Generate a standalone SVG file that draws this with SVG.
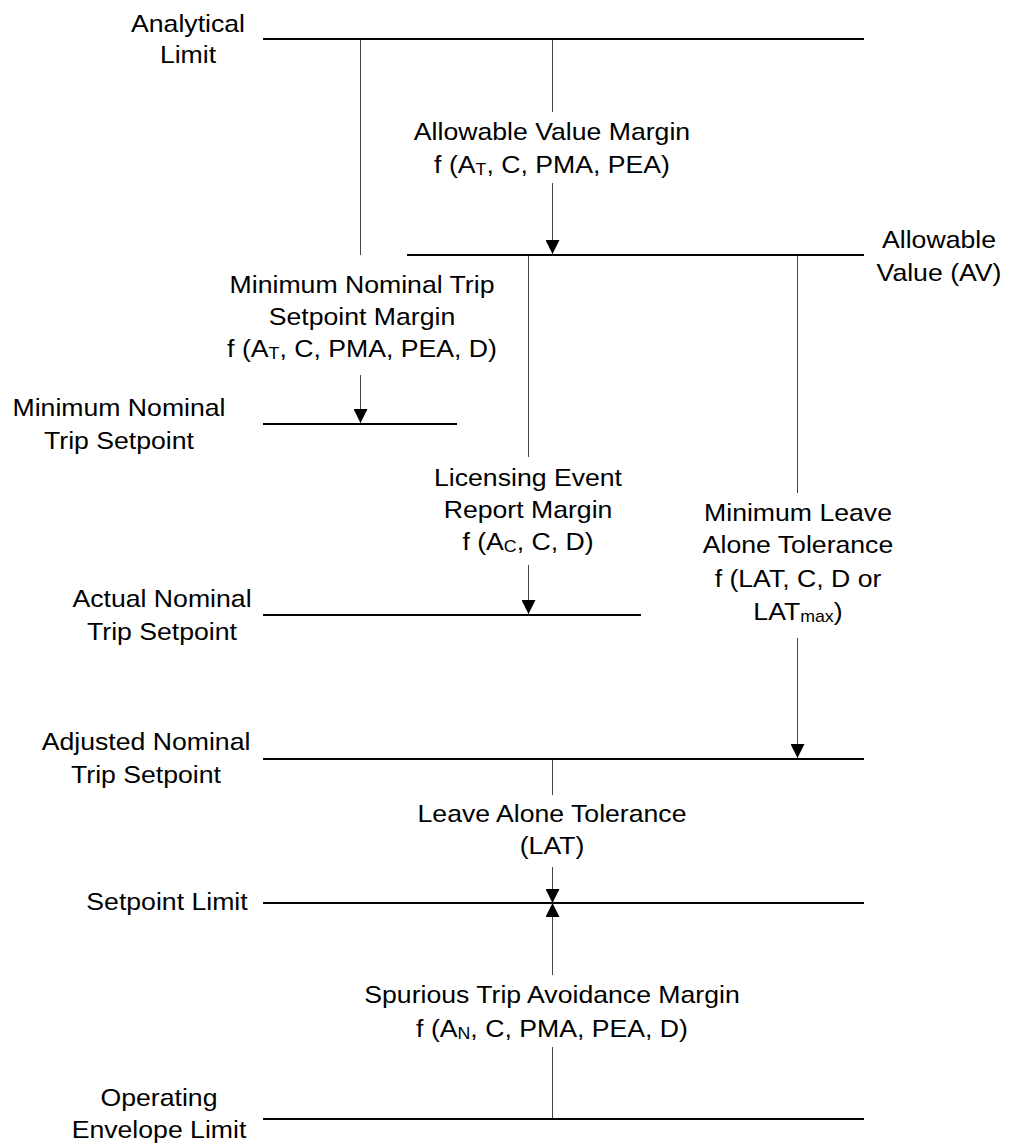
<svg xmlns="http://www.w3.org/2000/svg" width="1009" height="1148" viewBox="0 0 1009 1148">
  <style>
    .lvl { stroke: #000; stroke-width: 2; fill: none; }
    .conn { stroke: #444; stroke-width: 1; fill: none; }
    .t { font-family: "Liberation Sans", Arial, sans-serif; font-size: 24px; fill: #000; text-anchor: middle; }
    .sub { font-size: 16px; }
  </style>
  <defs>
    <marker id="arrow" markerUnits="userSpaceOnUse" markerWidth="14" markerHeight="14" refX="14" refY="7" orient="auto">
      <path d="M0,0 L14,7 L0,14 z" fill="#000"/>
    </marker>
  </defs>
  <rect width="1009" height="1148" fill="#fff"/>

  <!-- level lines with their labels -->
  <g id="analytical-limit">
    <line class="lvl" x1="263" y1="39" x2="864" y2="39"/>
    <text class="t" transform="translate(188 0) scale(1.11 1)"><tspan x="0" y="32">Analytical</tspan><tspan x="0" y="63">Limit</tspan></text>
  </g>
  <g id="allowable-value">
    <line class="lvl" x1="407" y1="255" x2="864" y2="255"/>
    <text class="t" transform="translate(939 0) scale(1.11 1)"><tspan x="0" y="248">Allowable</tspan><tspan x="0" y="281">Value (AV)</tspan></text>
  </g>
  <g id="min-nominal-trip-setpoint">
    <line class="lvl" x1="263" y1="424" x2="457" y2="424"/>
    <text class="t" transform="translate(119 0) scale(1.11 1)"><tspan x="0" y="416">Minimum Nominal</tspan><tspan x="0" y="449">Trip Setpoint</tspan></text>
  </g>
  <g id="actual-nominal-trip-setpoint">
    <line class="lvl" x1="263" y1="615" x2="641" y2="615"/>
    <text class="t" transform="translate(162 0) scale(1.11 1)"><tspan x="0" y="607">Actual Nominal</tspan><tspan x="0" y="640">Trip Setpoint</tspan></text>
  </g>
  <g id="adjusted-nominal-trip-setpoint">
    <line class="lvl" x1="263" y1="759" x2="864" y2="759"/>
    <text class="t" transform="translate(146 0) scale(1.11 1)"><tspan x="0" y="750">Adjusted Nominal</tspan><tspan x="0" y="783">Trip Setpoint</tspan></text>
  </g>
  <g id="setpoint-limit">
    <line class="lvl" x1="263" y1="903" x2="864" y2="903"/>
    <text class="t" transform="translate(167 0) scale(1.11 1)"><tspan x="0" y="910">Setpoint Limit</tspan></text>
  </g>
  <g id="operating-envelope-limit">
    <line class="lvl" x1="263" y1="1119" x2="864" y2="1119"/>
    <text class="t" transform="translate(159 0) scale(1.11 1)"><tspan x="0" y="1106">Operating</tspan><tspan x="0" y="1138">Envelope Limit</tspan></text>
  </g>

  <!-- margin connectors -->
  <g id="connectors">
    <line class="conn" x1="360.5" y1="40" x2="360.5" y2="255"/>
    <line class="conn" x1="360.5" y1="375" x2="360.5" y2="423" marker-end="url(#arrow)"/>

    <line class="conn" x1="552.5" y1="40" x2="552.5" y2="112"/>
    <line class="conn" x1="552.5" y1="183" x2="552.5" y2="254" marker-end="url(#arrow)"/>

    <line class="conn" x1="528.5" y1="256" x2="528.5" y2="457"/>
    <line class="conn" x1="528.5" y1="565" x2="528.5" y2="614" marker-end="url(#arrow)"/>

    <line class="conn" x1="797.5" y1="256" x2="797.5" y2="493"/>
    <line class="conn" x1="797.5" y1="638" x2="797.5" y2="758" marker-end="url(#arrow)"/>

    <line class="conn" x1="552.5" y1="760" x2="552.5" y2="795"/>
    <line class="conn" x1="552.5" y1="867" x2="552.5" y2="903" marker-end="url(#arrow)"/>

    <line class="conn" x1="552.5" y1="1118" x2="552.5" y2="1047"/>
    <line class="conn" x1="552.5" y1="975" x2="552.5" y2="903" marker-end="url(#arrow)"/>
  </g>

  <!-- margin labels -->
  <g id="allowable-value-margin">
    <text class="t" transform="translate(552 0) scale(1.11 1)"><tspan x="0" y="140">Allowable Value Margin</tspan><tspan x="0" y="173">f (A<tspan class="sub" dy="2">T</tspan><tspan dy="-2">, C, PMA, PEA)</tspan></tspan></text>
  </g>
  <g id="min-nominal-trip-setpoint-margin">
    <text class="t" transform="translate(362 0) scale(1.11 1)"><tspan x="0" y="293">Minimum Nominal Trip</tspan><tspan x="0" y="325">Setpoint Margin</tspan><tspan x="0" y="357">f (A<tspan class="sub" dy="2">T</tspan><tspan dy="-2">, C, PMA, PEA, D)</tspan></tspan></text>
  </g>
  <g id="licensing-event-report-margin">
    <text class="t" transform="translate(528 0) scale(1.11 1)"><tspan x="0" y="486">Licensing Event</tspan><tspan x="0" y="518">Report Margin</tspan><tspan x="0" y="550">f (A<tspan class="sub" dy="2">C</tspan><tspan dy="-2">, C, D)</tspan></tspan></text>
  </g>
  <g id="min-leave-alone-tolerance">
    <text class="t" transform="translate(798 0) scale(1.11 1)"><tspan x="0" y="521">Minimum Leave</tspan><tspan x="0" y="553">Alone Tolerance</tspan><tspan x="0" y="587">f (LAT, C, D or</tspan><tspan x="0" y="620">LAT<tspan class="sub" dy="2">max</tspan><tspan dy="-2">)</tspan></tspan></text>
  </g>
  <g id="leave-alone-tolerance">
    <text class="t" transform="translate(552 0) scale(1.11 1)"><tspan x="0" y="822">Leave Alone Tolerance</tspan><tspan x="0" y="854">(LAT)</tspan></text>
  </g>
  <g id="spurious-trip-avoidance-margin">
    <text class="t" transform="translate(552 0) scale(1.11 1)"><tspan x="0" y="1003">Spurious Trip Avoidance Margin</tspan><tspan x="0" y="1037">f (A<tspan class="sub" dy="2">N</tspan><tspan dy="-2">, C, PMA, PEA, D)</tspan></tspan></text>
  </g>
</svg>
